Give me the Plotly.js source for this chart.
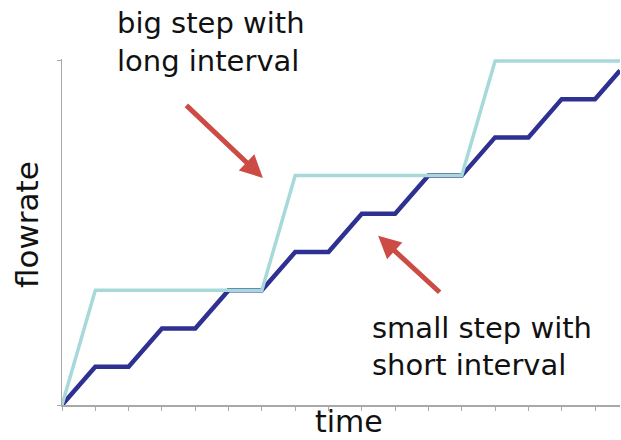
<!DOCTYPE html>
<html>
<head>
<meta charset="utf-8">
<script src="https://cdn.plot.ly/plotly-3.0.1.min.js"></script>
<style>html,body{margin:0;padding:0;background:#fff}#chart{width:621px;height:440px}</style>
</head>
<body>
<div id="chart"></div>
<script>
// Small steps with short interval
const smallTime = [0, 1, 2, 3, 4, 5, 6, 7, 8, 9, 10, 11, 12, 13, 14, 15, 16, 16.75];
const smallFlow = [0, 1, 1, 2, 2, 3, 3, 4, 4, 5, 5, 6, 6, 7, 7, 8, 8, 8.75];
// Big steps with long interval
const bigTime = [0, 1, 6, 7, 12, 13, 16.75];
const bigFlow = [0, 3, 3, 6, 6, 9, 9];
const xTicks = [0,1,2,3,4,5,6,7,8,9,10,11,12,13,14,15,16];
const yTicks = [0, 9];
const bigLabel = ['big step with', 'long interval'];
const smallLabel = ['small step with', 'short interval'];
const xTitle = 'time';
const yTitle = 'flowrate';

const font = "'DejaVu Sans', sans-serif";
const txtCol = '#111';

const traces = [
  {x: smallTime, y: smallFlow, type: 'scatter', mode: 'lines',
   line: {color: '#2e3192', width: 4.5}, hoverinfo: 'skip'},
  {x: bigTime, y: bigFlow, type: 'scatter', mode: 'lines',
   line: {color: '#a8d9da', width: 3.5}, hoverinfo: 'skip'}
];

const T = 59, B = 35, L = 62, R = 1, W = 621, H = 440;
const ph = H - T - B, pw = W - L - R;
const px = v => (v - L) / pw;
const py = v => (H - B - v) / ph;

function label(text, xPix, yPix, size, anchor, angle) {
  return {xref: 'paper', yref: 'paper', x: px(xPix), y: py(yPix),
    xanchor: anchor || 'left', yanchor: 'middle', align: 'left', showarrow: false,
    textangle: angle || 0, borderpad: 0,
    text: text, font: {family: font, size: size || 29, color: txtCol}};
}

const axisCol = '#a9a9a9';
const layout = {
  width: W, height: H,
  margin: {l: L, r: R, t: T, b: B},
  paper_bgcolor: '#fff', plot_bgcolor: '#fff',
  showlegend: false,
  xaxis: {range: [0, 16.75], showgrid: false, zeroline: false,
    showline: true, linecolor: axisCol, linewidth: 1.5,
    tickmode: 'array', tickvals: xTicks, ticks: 'outside', ticklen: 4,
    tickcolor: axisCol, tickwidth: 1, showticklabels: false},
  yaxis: {range: [0, 9.05], showgrid: false, zeroline: false,
    showline: true, linecolor: axisCol, linewidth: 1.5,
    tickmode: 'array', tickvals: yTicks, ticks: 'outside', ticklen: 4,
    tickcolor: axisCol, tickwidth: 1, showticklabels: false},
  annotations: [
    label(bigLabel[0], 116, 23),
    label(bigLabel[1], 116, 61),
    label(smallLabel[0], 371, 328),
    label(smallLabel[1], 371, 365),
    label(xTitle, 349, 422, 30, 'center'),
    label(yTitle, 27, 225, 31, 'center', -90),
    {x: 6.03, y: 5.94, xref: 'x', yref: 'y', text: '', showarrow: true,
     ax: -78, ay: -74, arrowcolor: '#cc4b45', arrowwidth: 5, arrowhead: 2, arrowsize: 0.9},
    {x: 9.49, y: 4.43, xref: 'x', yref: 'y', text: '', showarrow: true,
     ax: 63, ay: 58, arrowcolor: '#cc4b45', arrowwidth: 5, arrowhead: 2, arrowsize: 0.9}
  ]
};

Plotly.newPlot('chart', traces, layout, {displayModeBar: false, staticPlot: true});
</script>
</body>
</html>
